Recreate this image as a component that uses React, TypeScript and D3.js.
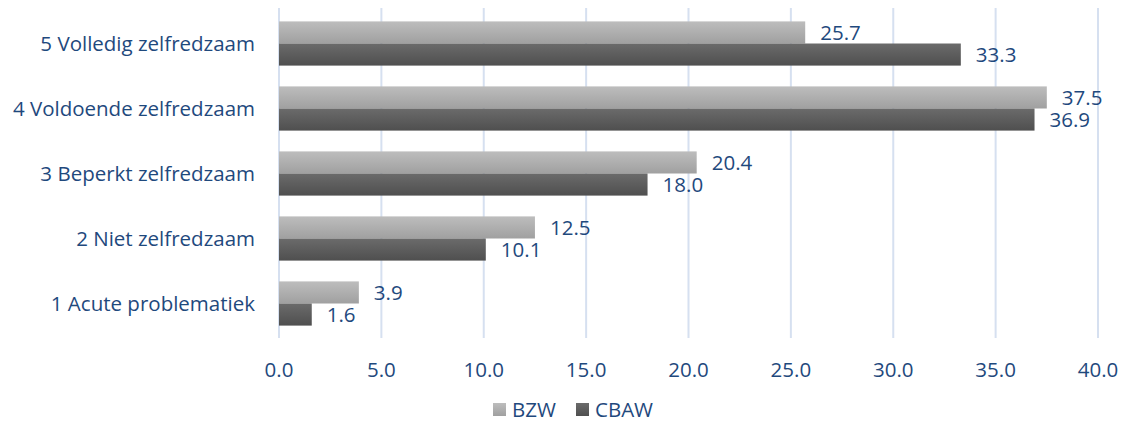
import React from 'react'
import * as d3 from 'd3'

const categories = [
  '5 Volledig zelfredzaam',
  '4 Voldoende zelfredzaam',
  '3 Beperkt zelfredzaam',
  '2 Niet zelfredzaam',
  '1 Acute problematiek',
]
const series = ['BZW', 'CBAW']
const bzw = [25.7, 37.5, 20.4, 12.5, 3.9]
const cbaw = [33.3, 36.9, 18.0, 10.1, 1.6]
const ticks = [0, 5, 10, 15, 20, 25, 30, 35, 40]

const W = 1125
const H = 430
const TXT = '#1f497d'
const FONT = '"Open Sans", Calibri, sans-serif'
const FS = 20.5

export default function App() {
  const x = d3.scaleLinear().domain([0, 40]).range([279, 1098])
  const y = d3.scaleBand().domain(categories).range([11, 336]).paddingInner(0.32).paddingOuter(0.16)
  const sub = d3.scaleBand().domain(series).range([0, y.bandwidth()])
  const values = [bzw, cbaw]
  const fills = ['url(#gBzw)', 'url(#gCbaw)']

  return (
    <svg width={W} height={H} style={{ position: 'absolute', left: 0, top: 0, fontFamily: FONT }}>
      <defs>
        <linearGradient id="gBzw" x1="0" y1="0" x2="0" y2="1">
          <stop offset="0" stopColor="#bdbdbd" />
          <stop offset="1" stopColor="#a0a0a0" />
        </linearGradient>
        <linearGradient id="gCbaw" x1="0" y1="0" x2="0" y2="1">
          <stop offset="0" stopColor="#6b6b6b" />
          <stop offset="1" stopColor="#4f4f4f" />
        </linearGradient>
      </defs>
      <rect width={W} height={H} fill="#fff" />
      {ticks.map(t => (
        <line key={t} x1={x(t)} x2={x(t)} y1={8} y2={338} stroke="#d6e0f0" strokeWidth={2} />
      ))}
      {categories.map((c, i) => (
        <g key={c}>
          {series.map((s, k) => {
            const v = values[k][i]
            const y0 = (y(c) as number) + (sub(s) as number)
            return (
              <g key={s}>
                <rect x={x(0)} y={y0} width={x(v) - x(0)} height={sub.bandwidth()} fill={fills[k]} />
                <text x={x(v) + 15} y={y0 + sub.bandwidth() / 2} dy="0.35em" fontSize={FS} fill={TXT}>
                  {v.toFixed(1)}
                </text>
              </g>
            )
          })}
          <text x={255} y={(y(c) as number) + y.bandwidth() / 2} dy="0.35em" textAnchor="end" fontSize={FS} fill={TXT}>
            {c}
          </text>
        </g>
      ))}
      {ticks.map(t => (
        <text key={t} x={x(t)} y={370} dy="0.35em" textAnchor="middle" fontSize={FS} fill={TXT}>
          {t.toFixed(1)}
        </text>
      ))}
      <g>
        <rect x={493} y={403} width={13} height={13} fill="url(#gBzw)" />
        <text x={512} y={410} dy="0.35em" fontSize={FS} fill={TXT}>BZW</text>
        <rect x={576} y={403} width={13} height={13} fill="url(#gCbaw)" />
        <text x={595} y={410} dy="0.35em" fontSize={FS} fill={TXT}>CBAW</text>
      </g>
    </svg>
  )
}
